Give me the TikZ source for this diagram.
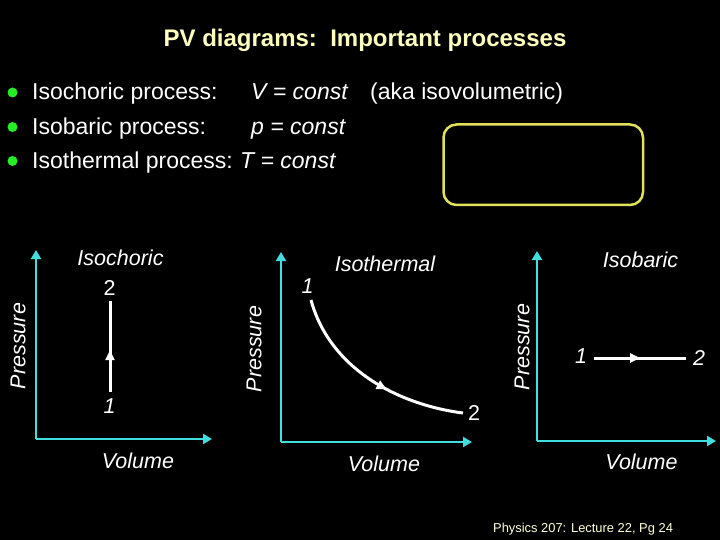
\documentclass[tikz,border=0pt]{standalone}
\usepackage{fontspec}
\setmainfont{Liberation Sans}
\usetikzlibrary{arrows.meta,decorations.markings}
\definecolor{axcyan}{RGB}{64,222,222}
\definecolor{titleyel}{RGB}{255,255,190}
\definecolor{boxyel}{RGB}{225,225,90}
\definecolor{bulgreen}{RGB}{40,235,40}
\tikzset{
  txt/.style={inner sep=0pt, text=white, font=\fontsize{23}{26}\selectfont},
  lbl/.style={inner sep=0pt, text=white, font=\fontsize{21.5}{24}\itshape},
  num/.style={inner sep=0pt, text=white, font=\fontsize{21.5}{24}\selectfont},
  axisline/.style={draw=axcyan, line width=2.8pt, -{Triangle[length=9pt,width=10pt]}},
  procline/.style={draw=white, line width=3pt},
  midarrow/.style={postaction={decorate, decoration={markings, mark=at position #1 with {\arrow{Triangle[length=10pt,width=9pt]}}}}},
  bulletdot/.style={circle, fill=bulgreen, inner sep=0pt, minimum size=10pt}
}
\begin{document}
\begin{tikzpicture}[x=1pt,y=-1pt]
\fill[black] (0,0) rectangle (720,540);
\useasboundingbox (0,0) rectangle (720,540);

% title
\node[inner sep=0pt, anchor=base, text=titleyel, font=\fontsize{24}{27}\bfseries] (title) at (365,47) {PV diagrams:\ \ Important processes};

% bullets
\node[bulletdot] (b1) at (12.5,92.5) {};
\node[bulletdot] (b2) at (12.5,127) {};
\node[bulletdot] (b3) at (12.5,161) {};
\node[txt, anchor=base west] (t1) at (32,100) {Isochoric process:};
\node[txt, anchor=base west] (t2) at (32,134.5) {Isobaric process:};
\node[txt, anchor=base west] (t3) at (32,169) {Isothermal process:};
\node[txt, anchor=base west] (v1) at (251,100) {\itshape V = const};
\node[txt, anchor=base west] (aka) at (370,100) {(aka isovolumetric)};
\node[txt, anchor=base west] (p1) at (251,134.5) {\itshape p = const};
\node[txt, anchor=base west] (tt1) at (240,169) {\itshape T = const};

% yellow box
\draw[boxyel, line width=2.5pt, rounded corners=13pt] (443.5,124.5) rectangle (643,205);

% ---- Chart 1: isochoric
\coordinate (o1) at (36,439);
\coordinate (y1) at (36,250);
\coordinate (x1) at (212,439);
\draw[axisline] (o1) -- (y1);
\draw[axisline] (o1) -- (x1);
\node[lbl, rotate=90] (pr1) at (18,346) {Pressure};
\node[lbl, anchor=base] (vol1) at (138,468) {Volume};
\node[lbl, anchor=base] (ttl1) at (120.5,265) {Isochoric};
\node[num, anchor=base] (c1n2) at (109.5,295) {2};
\node[lbl, anchor=base] (c1n1) at (109.5,413) {1};
\coordinate (c1a) at (110,392);
\coordinate (c1b) at (110,301);
\draw[procline, midarrow=0.46] (c1a) -- (c1b);

% ---- Chart 2: isothermal
\coordinate (o2) at (281,442);
\coordinate (y2) at (281,252);
\coordinate (x2) at (472,442);
\draw[axisline] (o2) -- (y2);
\draw[axisline] (o2) -- (x2);
\node[lbl, rotate=90] (pr2) at (254,349) {Pressure};
\node[lbl, anchor=base] (vol2) at (384,471) {Volume};
\node[lbl, anchor=base] (ttl2) at (385,271) {Isothermal};
\node[lbl, anchor=base] (c2n1) at (307.5,293) {1};
\node[num, anchor=base] (c2n2) at (474,420) {2};
\coordinate (c2a) at (311,300);
\coordinate (c2b) at (463,413);
\draw[procline, midarrow=0.6] (c2a) .. controls (330,370) and (400,405) .. (c2b);

% ---- Chart 3: isobaric
\coordinate (o3) at (537,441);
\coordinate (y3) at (537,251);
\coordinate (x3) at (716,441);
\draw[axisline] (o3) -- (y3);
\draw[axisline] (o3) -- (x3);
\node[lbl, rotate=90] (pr3) at (522,347) {Pressure};
\node[lbl, anchor=base] (vol3) at (641.5,469) {Volume};
\node[lbl, anchor=base] (ttl3) at (640.5,267) {Isobaric};
\node[lbl, anchor=base] (c3n1) at (581,363) {1};
\node[lbl, anchor=base] (c3n2) at (699,365) {2};
\coordinate (c3a) at (594,358);
\coordinate (c3b) at (686,358);
\draw[procline, midarrow=0.5] (c3a) -- (c3b);

% footer
\node[inner sep=0pt, anchor=base west, text=titleyel!60!white, font=\fontsize{12.9}{14}\selectfont] (foot) at (493,532) {Physics 207: Lecture 22, Pg 24};
\end{tikzpicture}
\end{document}
